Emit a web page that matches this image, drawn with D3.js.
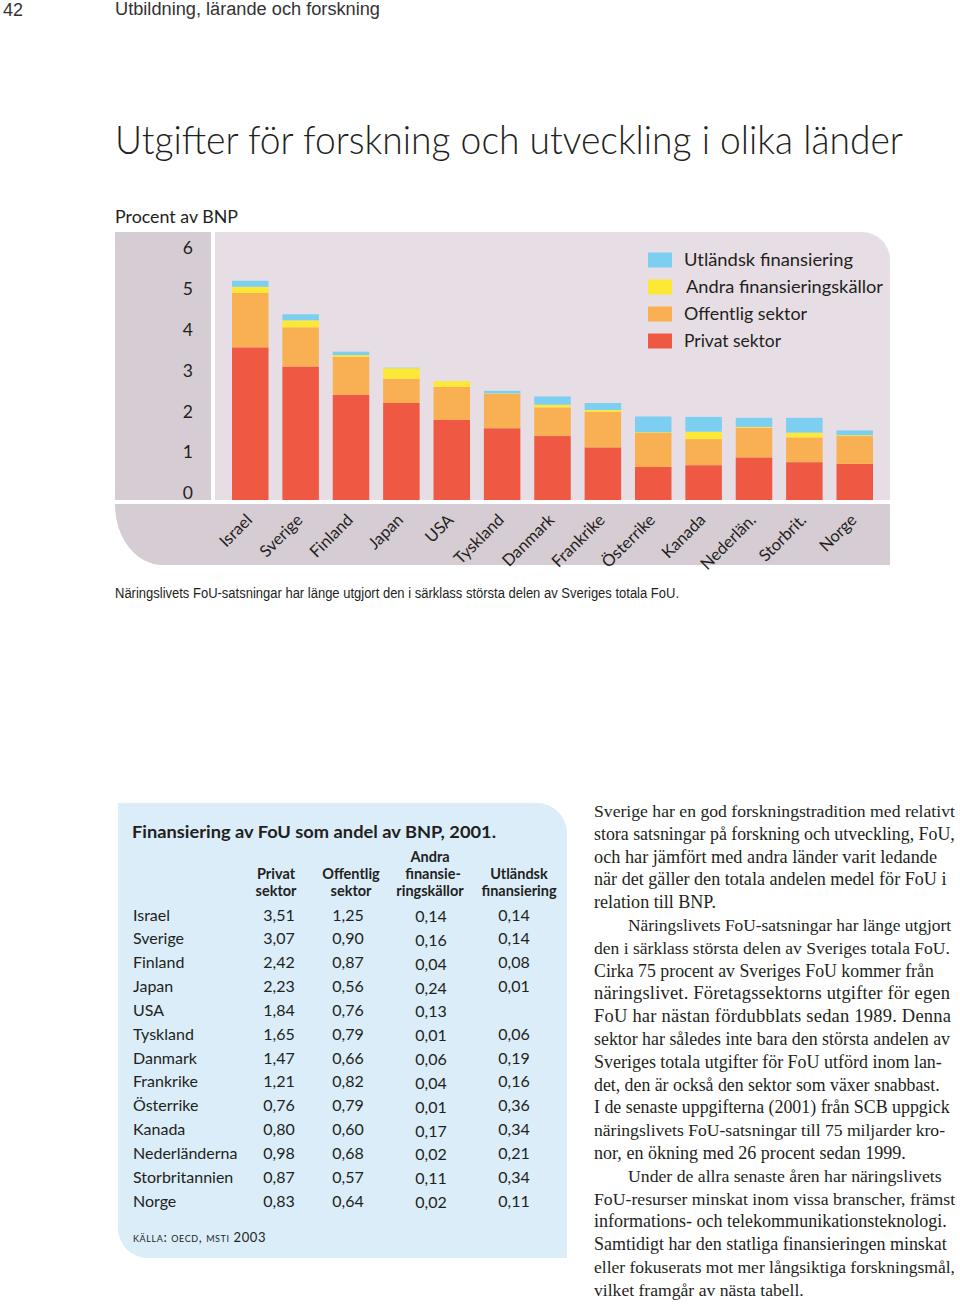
<!DOCTYPE html>
<html><head><meta charset="utf-8">
<script src="https://cdn.jsdelivr.net/npm/d3@7"></script>
<style>body{margin:0;background:#fff}svg{display:block}</style>
</head><body>
<script>
// ---------- DATA ----------
const countries = ["Israel","Sverige","Finland","Japan","USA","Tyskland","Danmark","Frankrike","Österrike","Kanada","Nederländerna","Storbritannien","Norge"];
const chartLabels = ["Israel","Sverige","Finland","Japan","USA","Tyskland","Danmark","Frankrike","Österrike","Kanada","Nederlän.","Storbrit.","Norge"];
const privat    = [3.51,3.07,2.42,2.23,1.84,1.65,1.47,1.21,0.76,0.80,0.98,0.87,0.83];
const offentlig = [1.25,0.90,0.87,0.56,0.76,0.79,0.66,0.82,0.79,0.60,0.68,0.57,0.64];
const andra     = [0.14,0.16,0.04,0.24,0.13,0.01,0.06,0.04,0.01,0.17,0.02,0.11,0.02];
const utlandsk  = [0.14,0.14,0.08,0.01,null,0.06,0.19,0.16,0.36,0.34,0.21,0.34,0.11];
const seriesKeys = ["privat","offentlig","andra","utlandsk"];
const seriesNames = ["Privat sektor","Offentlig sektor","Andra finansieringskällor","Utländsk finansiering"];
const yTicks = [0,1,2,3,4,5,6];
const tableHeaders = [["Privat","sektor"],["Offentlig","sektor"],["Andra","finansie-","ringskällor"],["Utländsk","finansiering"]];

const bodyLines = [
 "Sverige har en god forskningstradition med relativt",
 "stora satsningar på forskning och utveckling, FoU,",
 "och har jämfört med andra länder varit ledande",
 "när det gäller den totala andelen medel för FoU i",
 "relation till BNP.",
 "Näringslivets FoU-satsningar har länge utgjort",
 "den i särklass största delen av Sveriges totala FoU.",
 "Cirka 75 procent av Sveriges FoU kommer från",
 "näringslivet. Företagssektorns utgifter för egen",
 "FoU har nästan fördubblats sedan 1989. Denna",
 "sektor har således inte bara den största andelen av",
 "Sveriges totala utgifter för FoU utförd inom lan-",
 "det, den är också den sektor som växer snabbast.",
 "I de senaste uppgifterna (2001) från SCB uppgick",
 "näringslivets FoU-satsningar till 75 miljarder kro-",
 "nor, en ökning med 26 procent sedan 1999.",
 "Under de allra senaste åren har näringslivets",
 "FoU-resurser minskat inom vissa branscher, främst",
 "informations- och telekommunikationsteknologi.",
 "Samtidigt har den statliga finansieringen minskat",
 "eller fokuserats mot mer långsiktiga forskningsmål,",
 "vilket framgår av nästa tabell."
];
// layout for body text (x start, right edge)
const bodyIndent = [0,0,0,0,0,34,0,0,0,0,0,0,0,0,0,0,34,0,0,0,0,0];
const bodyRight  = [955,955,937,947,716,951,950,934,950,951,950,942,940,950,945,906,942,955,947,947,955,804];

// ---------- STYLE ----------
const colors = {privat:"#ef5944", offentlig:"#f9b052", andra:"#fce835", utlandsk:"#7dcff2"};
const sans = "Lato, 'Open Sans', sans-serif";
const narrow = "'Liberation Sans Narrow', 'Liberation Sans', Arial, sans-serif";
const serif = "'Liberation Serif', 'DejaVu Serif', serif";
const ink = "#231f20";

const svg = d3.select("body").append("svg").attr("width",960).attr("height",1307);
svg.append("rect").attr("width",960).attr("height",1307).attr("fill","#fff");

function fit(sel, w){ sel.attr("textLength", w).attr("lengthAdjust","spacingAndGlyphs"); return sel; }

// header
svg.append("text").attr("x",3).attr("y",16).attr("font-family",narrow).attr("font-size",18).attr("fill","#333").text("42");
fit(svg.append("text").attr("x",115).attr("y",15).attr("font-family",narrow).attr("font-size",18).attr("fill","#333").text("Utbildning, lärande och forskning"),265);

// title
fit(svg.append("text").attr("x",115).attr("y",154).attr("font-family",sans).attr("font-weight",300).attr("font-size",39).attr("fill",ink)
  .text("Utgifter för forskning och utveckling i olika länder"),788);

fit(svg.append("text").attr("x",115).attr("y",223).attr("font-family",sans).attr("font-size",17.5).attr("fill",ink).text("Procent av BNP"),123);

// ---------- CHART ----------
const y = d3.scaleLinear().domain([0,6]).range([500, 500-6*43.5]);
const yLab = d3.scaleLinear().domain([0,6]).range([492.7,247.7]);
const x = d3.scaleBand().domain(countries).range([215,890]).paddingInner(0.275).paddingOuter(0.3375);

svg.append("rect").attr("x",115).attr("y",232).attr("width",96).attr("height",268).attr("fill","#d6ccd3");
svg.append("path").attr("d","M215,232 H862 A28 28 0 0 1 890,260 V500 H215 Z").attr("fill","#e6dee4");
svg.append("path").attr("d","M115,504 H890 V565 H163 A48 60 0 0 1 115,505 Z").attr("fill","#d6ccd3");

// y axis labels
const yAxis = d3.axisLeft(yLab).tickValues(yTicks).tickSize(0).tickPadding(0).tickFormat(d3.format("d"));
const gy = svg.append("g").attr("transform","translate(193,0)").call(yAxis);
gy.select(".domain").remove();
gy.selectAll("text").attr("font-family",sans).attr("font-size",17.5).attr("fill",ink).attr("dy","0.35em");

// stacked bars
const rows = countries.map((c,i)=>({country:c, privat:privat[i], offentlig:offentlig[i], andra:andra[i], utlandsk:utlandsk[i]||0}));
const stacked = d3.stack().keys(seriesKeys)(rows);
svg.append("g").selectAll("g").data(stacked).join("g").attr("fill",d=>colors[d.key])
  .selectAll("rect").data(d=>d).join("rect")
  .attr("x",d=>x(d.data.country)).attr("width",x.bandwidth())
  .attr("y",d=>y(d[1])).attr("height",d=>Math.max(0,y(d[0])-y(d[1])));

// x labels
const xAxis = d3.axisBottom(x).tickSize(0).tickFormat((d,i)=>chartLabels[i]);
const gx = svg.append("g").attr("transform","translate(0,521)").call(xAxis);
gx.select(".domain").remove();
gx.selectAll("text").attr("font-family",sans).attr("font-size",16.5).attr("fill",ink)
  .attr("text-anchor","end").attr("y",0).attr("dy",0)
  .attr("transform","translate(3,0) rotate(-45)");

// legend
const legendOrder = [3,2,1,0];
const legendY = [260,287,314,341];
const legendW = [169,197,123,97];
const lg = svg.append("g");
legendOrder.forEach((k,j)=>{
  lg.append("rect").attr("x",648).attr("y",legendY[j]-7.5).attr("width",24).attr("height",15).attr("fill",colors[seriesKeys[k]]);
  fit(lg.append("text").attr("x",684+(j===1?2:0)).attr("y",legendY[j]+6).attr("font-family",sans).attr("font-size",18).attr("fill",ink).text(seriesNames[k]),legendW[j]);
});

// caption
fit(svg.append("text").attr("x",115).attr("y",598).attr("font-family",narrow).attr("font-size",14).attr("fill",ink)
  .text("Näringslivets FoU-satsningar har länge utgjort den i särklass största delen av Sveriges totala FoU."),564);

// ---------- TABLE ----------
svg.append("path").attr("d","M118,803 H537 A30 30 0 0 1 567,833 V1258 H148 A30 30 0 0 1 118,1228 Z").attr("fill","#daedf9");
fit(svg.append("text").attr("x",132).attr("y",838).attr("font-family",sans).attr("font-weight",700).attr("font-size",17).attr("fill",ink)
  .text("Finansiering av FoU som andel av BNP, 2001."),364);

const colCenters = {privat:279, offentlig:348, andra:431, utlandsk:514};
const headCenters = [276,351,430,519];
const headG = svg.append("g").attr("font-family",sans).attr("font-weight",700).attr("font-size",14.5).attr("fill",ink).attr("text-anchor","middle");
tableHeaders.forEach((lines,j)=>{
  const base = 896 - (lines.length-1)*17;
  lines.forEach((t,k)=>{
    headG.append("text").attr("x",headCenters[j]+(t==="finansie-"?3:0)).attr("y",base+k*17).text(t);
  });
});

const fmt = d3.formatLocale({decimal:",",thousands:" ",grouping:[3],currency:["","kr"]}).format(".2f");
const rowY = d3.scalePoint().domain(countries).range([915,1201]);
const tg = svg.append("g").attr("font-family",sans).attr("font-size",16).attr("fill",ink);
countries.forEach((c,i)=>{
  const yy = rowY(c)+5.5;
  tg.append("text").attr("x",133).attr("y",yy).text(c);
  [privat[i],offentlig[i],andra[i],utlandsk[i]].forEach((v,j)=>{
    if(v==null) return;
    tg.append("text").attr("x",colCenters[seriesKeys[j]]).attr("y",yy+(j===2?1.5:0)).attr("text-anchor","middle").text(fmt(v));
  });
});
svg.append("text").attr("x",133).attr("y",1242).attr("font-family",sans).attr("font-size",13).attr("fill",ink)
  .attr("letter-spacing",0.6).style("font-variant","small-caps").text("källa: oecd, msti 2003");

// ---------- BODY TEXT ----------
const baseFs = 18.5;
const bg = svg.append("g").attr("font-family",serif).attr("fill",ink);
bodyLines.forEach((t,i)=>{
  const x0 = 594 + bodyIndent[i];
  const target = bodyRight[i]-x0;
  const tx = bg.append("text").attr("x",x0).attr("y",817+i*22.8).attr("font-size",baseFs).text(t);
  const nat = tx.node().getComputedTextLength();
  if(nat > target){
    tx.attr("font-size", (baseFs*target/nat).toFixed(2));
  } else if (target - nat < 25) {
    tx.attr("textLength", target).attr("lengthAdjust","spacing");
  }
});
</script>
</body></html>
